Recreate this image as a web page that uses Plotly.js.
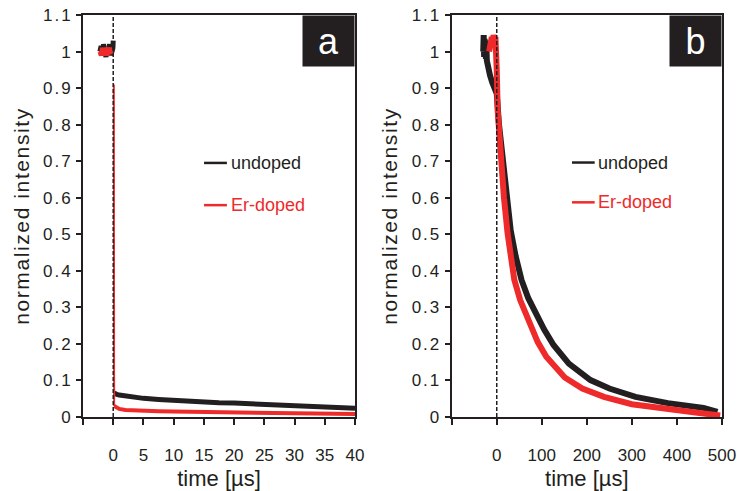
<!DOCTYPE html>
<html>
<head>
<meta charset="utf-8">
<script src="https://cdn.plot.ly/plotly-3.0.1.min.js"></script>
<style>
html,body{margin:0;padding:0;background:#fff;}
#chart{width:737px;height:491px;}
#chart .ytick text, #chart .y2tick text {letter-spacing: 2px;}
#chart text.ytitle, #chart text.y2title {letter-spacing: 1.6px;}
</style>
</head>
<body>
<div id="chart"></div>
<script>
// ---- data ----
const seriesNames = ["undoped", "Er-doped"];
const panelLabels = ["a", "b"];

// Panel a : time in µs, 0–40 window
// pre-trigger part (t < 0)
const aPreTimeUndoped = [-2.2,-2.0,-1.8,-1.6,-1.4,-1.2,-1.0,-0.8,-0.6,-0.4,-0.2,-0.05,0];
const aPreValUndoped  = [1.0,1.015,0.99,1.02,1.0,0.985,1.01,1.0,1.02,0.99,1.0,1.01,1.03];
const aPreTimeDoped   = [-2.1,-1.9,-1.7,-1.5,-1.3,-1.1,-0.9,-0.7,-0.5,-0.4];
const aPreValDoped    = [1.0,0.99,1.01,0.995,1.005,0.99,1.0,1.01,0.995,1.0];
// fast drop of the Er-doped sample right after t = 0
const aDropTimeDoped  = [0.1,0.15];
const aDropValDoped   = [0.91,0.03];
// slow tail
const aTimeUndoped = [0.15,0.3,0.6,1,2,3,5,7.5,10,12.5,15,17.5,20,22.5,25,27.5,30,32.5,35,37.5,40];
const aValUndoped  = [0.066,0.064,0.062,0.060,0.057,0.055,0.051,0.048,0.045,0.043,0.041,0.039,0.038,0.036,0.034,0.033,0.031,0.030,0.028,0.026,0.024];
const aTimeDoped   = [0.15,0.3,0.5,1,2,3,5,7.5,10,15,20,25,30,35,40];
const aValDoped    = [0.03,0.028,0.026,0.022,0.019,0.018,0.017,0.016,0.015,0.014,0.013,0.012,0.010,0.009,0.008];

// Panel b : time in µs, 0–500 window
const bTimeUndoped = [-30,-29,-28,-27,-26,-25,-24,-23,-22,-20,-18,-15,-10,-5,0,5,10,20,31,42,55,70,88,105,126,160,208,250,308,380,459,490];
const bValUndoped  = [1.0,1.045,0.985,1.035,0.99,1.03,0.98,1.02,0.975,0.96,0.95,0.935,0.915,0.9,0.885,0.80,0.74,0.62,0.51,0.44,0.375,0.325,0.28,0.24,0.197,0.146,0.101,0.078,0.055,0.038,0.025,0.014];
const bTimeDoped   = [-17,-15,-13,-11,-9,-7,-5,-3,-1,0,2,8,16,24,31,39,52,66,91,110,151,190,238,300,386,450,496];
const bValDoped    = [1.0,1.03,1.01,1.04,1.02,1.045,1.03,1.04,1.0,0.95,0.84,0.73,0.60,0.503,0.44,0.375,0.32,0.275,0.205,0.165,0.108,0.078,0.055,0.035,0.019,0.011,0.004];

// axis ticks
const yTickVals = [0,0.1,0.2,0.3,0.4,0.5,0.6,0.7,0.8,0.9,1,1.1];
const yTickText = ["0","0.1","0.2","0.3","0.4","0.5","0.6","0.7","0.8","0.9","1","1.1"];
const aTickVals = [-5,0,5,10,15,20,25,30,35,40];
const aTickText = ["","0","5","10","15","20","25","30","35","40"];
const bTickVals = [-100,0,100,200,300,400,500];
const bTickText = ["","0","100","200","300","400","500"];

const xTitle = "time [µs]";
const yTitle = "normalized intensity";

// ---- styling ----
const INK = "#231f20";
const RED = "#ee2a2a";
const FONT = "Liberation Sans, Arial, sans-serif";

function tr(x, y, xa, ya, name, color, width) {
  return {x: x, y: y, xaxis: xa, yaxis: ya, mode: "lines", name: name,
          line: {color: color, width: width}, showlegend: false};
}

const traces = [
  tr(aPreTimeUndoped, aPreValUndoped, "x", "y", seriesNames[0], INK, 5),
  tr(aTimeUndoped, aValUndoped, "x", "y", seriesNames[0], INK, 5),
  tr(aPreTimeDoped, aPreValDoped, "x", "y", seriesNames[1], RED, 6),
  tr(aDropTimeDoped, aDropValDoped, "x", "y", seriesNames[1], RED, 2),
  tr(aTimeDoped, aValDoped, "x", "y", seriesNames[1], RED, 4),
  tr(bTimeUndoped, bValUndoped, "x2", "y2", seriesNames[0], INK, 6),
  tr(bTimeDoped, bValDoped, "x2", "y2", seriesNames[1], RED, 6)
];

function xAxis(domain, range, vals, text, anchor) {
  return {
    anchor: anchor, domain: domain, range: range, tickvals: vals, ticktext: text,
    showline: true, linecolor: INK, linewidth: 2, mirror: true,
    ticks: "outside", ticklen: 6, tickwidth: 2, tickcolor: INK,
    showgrid: false, zeroline: false, ticklabelstandoff: 16,
    tickfont: {family: FONT, size: 17, color: INK},
    title: {text: xTitle, font: {family: FONT, size: 22, color: INK}, standoff: 8}
  };
}
function yAxis(anchor) {
  return {
    anchor: anchor, range: [0, 1.1], tickvals: yTickVals, ticktext: yTickText,
    showline: true, linecolor: INK, linewidth: 2, mirror: true,
    ticks: "outside", ticklen: 5, tickwidth: 2, tickcolor: INK,
    showgrid: false, zeroline: false,
    tickfont: {family: FONT, size: 17, color: INK},
    title: {text: yTitle, font: {family: FONT, size: 21, color: INK}, standoff: 14}
  };
}

function dashed(xref, yref) {
  return {type: "line", xref: xref, yref: yref + " domain", x0: 0, x1: 0, y0: 0, y1: 1,
          line: {color: INK, width: 1.5, dash: "4px,2px"}};
}
function legLine(xref, yref, yy, color) {
  return {type: "line", xref: xref + " domain", yref: yref + " domain", x0: 0.445, x1: 0.529, y0: yy, y1: yy,
          line: {color: color, width: 2.5}};
}
function legText(xref, yref, yy, text, color) {
  return {xref: xref + " domain", yref: yref + " domain", x: 0.535, y: yy, xanchor: "left", yanchor: "middle",
          text: text, showarrow: false, font: {family: FONT, size: 18, color: color}};
}
function tag(xref, yref, text) {
  return {xref: xref + " domain", yref: yref + " domain", x: 1, y: 1, xanchor: "right", yanchor: "top",
          text: text, showarrow: false, width: 49, height: 48, borderpad: 1, bgcolor: INK,
          font: {family: FONT, size: 36, color: "#ffffff"}};
}

const layout = {
  width: 737, height: 491,
  margin: {l: 83, r: 15, t: 15, b: 74},
  paper_bgcolor: "#ffffff", plot_bgcolor: "#ffffff",
  showlegend: false,
  xaxis: xAxis([0, 0.4257], [-5, 40], aTickVals, aTickText, "y"),
  yaxis: yAxis("x"),
  xaxis2: xAxis([0.577, 1], [-100, 500], bTickVals, bTickText, "y2"),
  yaxis2: yAxis("x2"),
  shapes: [
    dashed("x", "y"), dashed("x2", "y2"),
    legLine("x", "y", 0.632, INK), legLine("x", "y", 0.527, RED),
    legLine("x2", "y2", 0.633, INK), legLine("x2", "y2", 0.534, RED)
  ],
  annotations: [
    legText("x", "y", 0.632, seriesNames[0], INK), legText("x", "y", 0.527, seriesNames[1], RED),
    legText("x2", "y2", 0.633, seriesNames[0], INK), legText("x2", "y2", 0.534, seriesNames[1], RED),
    tag("x", "y", panelLabels[0]), tag("x2", "y2", panelLabels[1])
  ]
};

Plotly.newPlot("chart", traces, layout, {staticPlot: true, displayModeBar: false});
</script>
</body>
</html>
